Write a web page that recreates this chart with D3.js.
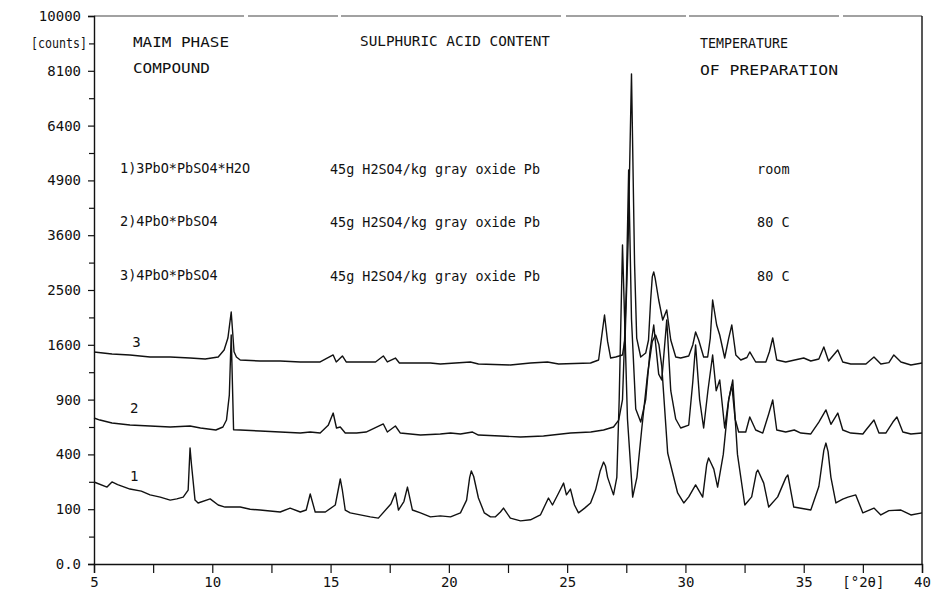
<!DOCTYPE html>
<html><head><meta charset="utf-8">
<script src="https://cdn.jsdelivr.net/npm/d3@7"></script>
<style>
html,body{margin:0;padding:0;background:#fff;}
svg text{font-family:"DejaVu Sans Mono","Liberation Mono",monospace;fill:#111;}
</style></head>
<body><svg id="c" width="934" height="596"></svg>
<script>
// ---- data (2θ in degrees, intensity in counts as plotted) ----
const trace1 = [[5.00,224],[5.55,197],[5.76,224],[6.0,210],[6.52,187],[7.0,177],[7.37,159],[7.8,149],[8.22,136],[8.5,141],[8.77,149],[8.98,182],[9.02,300],[9.06,448],[9.12,330],[9.27,136],[9.40,124],[9.91,141],[10.25,116],[10.54,108],[11.18,108],[11.6,100],[12.02,97],[12.87,90],[13.29,104],[13.72,90],[13.97,97],[14.14,163],[14.35,90],[14.78,90],[15.20,116],[15.35,200],[15.41,241],[15.50,180],[15.62,97],[15.83,87],[16.68,74],[17.02,70],[17.55,120],[17.74,168],[17.87,97],[18.1,130],[18.25,197],[18.46,97],[18.80,87],[19.22,74],[19.64,77],[20.07,74],[20.49,87],[20.75,136],[20.88,250],[20.95,288],[21.05,255],[21.25,145],[21.50,87],[21.76,74],[21.97,74],[22.18,90],[22.31,104],[22.60,70],[23.03,62],[23.45,65],[23.87,80],[24.21,145],[24.38,116],[24.64,168],[24.85,218],[24.97,159],[25.14,187],[25.31,116],[25.48,87],[25.74,104],[25.99,124],[26.20,182],[26.40,290],[26.54,346],[26.62,320],[26.71,250],[26.96,159],[27.10,250],[27.20,900],[27.34,3389],[27.55,700],[27.77,149],[27.95,250],[28.15,600],[28.40,1200],[28.60,1650],[28.74,1746],[28.88,1600],[29.0,1300],[29.25,410],[29.67,168],[29.93,124],[30.14,150],[30.43,208],[30.73,149],[30.90,330],[30.98,374],[31.08,340],[31.2,300],[31.36,197],[31.6,400],[31.83,900],[32.00,1127],[32.2,400],[32.51,116],[32.8,150],[33.0,280],[33.06,294],[33.31,218],[33.52,108],[33.9,150],[34.25,250],[34.33,264],[34.58,108],[35.30,97],[35.64,200],[35.85,430],[35.94,487],[36.03,420],[36.15,250],[36.36,124],[36.65,140],[36.87,149],[37.2,159],[37.50,87],[37.97,104],[38.26,80],[38.6,95],[39.11,97],[39.53,80],[40.00,87]];

const trace2 = [[5.00,710],[5.25,690],[5.76,662],[6.52,643],[7.37,634],[8.22,625],[9.06,634],[9.50,616],[10.15,598],[10.45,625],[10.60,690],[10.72,950],[10.80,1746],[10.90,600],[11.18,598],[12.02,589],[12.87,580],[13.72,571],[14.14,580],[14.56,571],[14.90,640],[15.11,759],[15.25,616],[15.41,625],[15.62,571],[16.1,571],[16.5,580],[17.23,653],[17.40,580],[17.74,634],[17.95,571],[18.80,554],[19.64,563],[20.07,571],[20.49,563],[21.00,580],[21.25,554],[22.18,546],[23.03,537],[24.00,546],[25.14,571],[26.0,580],[26.54,598],[26.96,625],[27.18,690],[27.34,900],[27.50,2500],[27.60,5169],[27.72,2000],[27.90,800],[28.11,671],[28.32,900],[28.50,1500],[28.66,1902],[28.87,1200],[29.00,1127],[29.21,1982],[29.38,1000],[29.59,700],[29.80,616],[30.14,643],[30.31,1100],[30.43,1597],[30.60,900],[30.77,616],[30.95,1000],[31.15,1455],[31.30,1000],[31.45,1127],[31.66,616],[31.83,900],[31.96,1067],[32.10,700],[32.25,580],[32.55,580],[32.72,720],[32.97,598],[33.27,571],[33.52,750],[33.69,896],[33.86,598],[34.24,580],[34.60,598],[34.88,571],[35.30,563],[35.64,671],[35.94,790],[36.15,650],[36.44,759],[36.65,598],[36.99,571],[37.50,563],[37.63,598],[37.97,690],[38.18,571],[38.47,571],[38.77,671],[38.94,720],[39.19,580],[39.53,563],[40.00,571]];

const trace3 = [[5.00,1497],[5.76,1469],[6.52,1455],[7.37,1427],[8.22,1427],[9.06,1413],[9.70,1399],[10.25,1427],[10.50,1525],[10.66,1700],[10.80,2115],[10.92,1500],[11.02,1427],[11.18,1386],[12.02,1372],[12.87,1372],[13.72,1359],[14.56,1359],[15.11,1455],[15.24,1359],[15.50,1441],[15.66,1359],[16.27,1359],[16.90,1359],[17.23,1441],[17.40,1359],[17.74,1413],[17.91,1345],[19.22,1345],[19.64,1332],[20.91,1359],[21.25,1332],[22.60,1319],[23.45,1345],[24.17,1359],[24.64,1332],[25.99,1345],[26.33,1386],[26.45,1700],[26.58,2065],[26.71,1650],[26.84,1413],[27.05,1427],[27.34,1455],[27.45,1700],[27.58,3500],[27.72,8000],[27.85,3000],[27.94,1700],[28.11,1427],[28.32,1482],[28.44,1671],[28.53,2321],[28.60,2750],[28.66,2839],[28.72,2720],[28.87,2321],[29.04,1982],[29.21,2148],[29.38,1671],[29.59,1427],[29.80,1413],[30.14,1441],[30.31,1597],[30.43,1792],[30.56,1671],[30.77,1427],[30.94,1427],[31.05,1700],[31.15,2321],[31.32,1902],[31.45,1746],[31.66,1413],[31.83,1700],[31.96,1902],[32.13,1455],[32.34,1386],[32.60,1420],[32.72,1497],[32.97,1359],[33.40,1359],[33.55,1500],[33.69,1701],[33.86,1386],[34.24,1359],[35.00,1413],[35.30,1372],[35.64,1400],[35.85,1568],[36.05,1372],[36.44,1525],[36.65,1359],[36.99,1332],[37.63,1332],[37.97,1427],[38.26,1332],[38.60,1350],[38.81,1455],[39.11,1359],[39.53,1319],[40.00,1345]];

const traceNames = ["1","2","3"];
const yTickValues = [0,100,400,900,1600,2500,3600,4900,6400,8100,10000];
const yTickLabels = ["0.0","100","400","900","1600","2500","3600","4900","6400","8100","10000"];
const yMinorTicks = [25,225,625,1225,2025,3025,4225,5625,7225,9025];
const xTickValues = [5,7.5,10,12.5,15,17.5,20,22.5,25,27.5,30,32.5,35,37.5,40];
const xTickLabels = ["5","","10","","15","","20","","25","","30","","35","[°2θ]","40"];
const yUnit = "[counts]";
const headers = ["MAIM PHASE","COMPOUND","SULPHURIC ACID CONTENT","TEMPERATURE","OF PREPARATION"];
const compounds = ["1)3PbO*PbSO4*H2O","2)4PbO*PbSO4","3)4PbO*PbSO4"];
const acidContent = ["45g H2SO4/kg gray oxide Pb","45g H2SO4/kg gray oxide Pb","45g H2SO4/kg gray oxide Pb"];
const temperatures = ["room","80 C","80 C"];

// ---- layout ----
const L=94, R=922, T=16, B=564;
const svg = d3.select("#c");
const x = d3.scaleLinear().domain([5,40]).range([L,R]);
const y = d3.scaleSqrt().domain([0,10000]).range([B,T]);

// frame
svg.append("line").attr("x1",L).attr("x2",R).attr("y1",T).attr("y2",T)
  .attr("stroke","#444").attr("stroke-width",1.1).attr("stroke-dasharray","150,4,90,3,220,5,120,3");
svg.append("line").attr("x1",R).attr("x2",R).attr("y1",T).attr("y2",B)
  .attr("stroke","#111").attr("stroke-width",1.4);

// y axis
const yAxis = d3.axisLeft(y).tickValues(yTickValues).tickSize(6).tickPadding(7)
  .tickFormat((d,i)=>yTickLabels[i]);
const gy = svg.append("g").attr("transform",`translate(${L},0)`).call(yAxis);
gy.select(".domain").attr("stroke","#111").attr("stroke-width",1.4);
gy.selectAll(".tick line").attr("stroke","#111").attr("stroke-width",1.2);
gy.selectAll("text").style("font-size","14px").attr("fill","#111");
const gym = svg.append("g").attr("transform",`translate(${L},0)`)
  .call(d3.axisLeft(y).tickValues(yMinorTicks).tickSize(5).tickFormat(""));
gym.select(".domain").remove();
gym.selectAll(".tick line").attr("stroke","#111").attr("stroke-width",1.2);
svg.append("text").attr("x",87).attr("y",44).attr("text-anchor","end")
  .attr("dominant-baseline","middle").style("font-size","14px")
  .attr("textLength",56).attr("lengthAdjust","spacingAndGlyphs").text(yUnit);

// x axis
const xAxis = d3.axisBottom(x).tickValues(xTickValues).tickSize(9).tickPadding(4)
  .tickFormat((d,i)=>xTickLabels[i]);
const gx = svg.append("g").attr("transform",`translate(0,${B})`).call(xAxis);
gx.select(".domain").attr("stroke","#111").attr("stroke-width",1.4);
gx.selectAll(".tick line").attr("stroke","#111").attr("stroke-width",1.2);
gx.selectAll("text").style("font-size","14px").attr("fill","#111");

// traces
const line = d3.line().x(d=>x(d[0])).y(d=>y(d[1]));
[trace1,trace2,trace3].forEach(t=>{
  svg.append("path").datum(t).attr("d",line).attr("fill","none")
    .attr("stroke","#111").attr("stroke-width",1.4).attr("stroke-linejoin","round");
});
// trace labels
const labelPos = [[6.7,200],[6.7,700],[6.8,1480]];
traceNames.forEach((n,i)=>{
  svg.append("text").attr("x",x(labelPos[i][0])).attr("y",y(labelPos[i][1])-6)
    .attr("text-anchor","middle").style("font-size","14px").text(n);
});

// annotation texts
function txt(s,x0,yc,w){
  const t = svg.append("text").attr("x",x0).attr("y",yc).attr("dominant-baseline","middle")
    .style("font-size","13.5px").text(s);
  if(w) t.attr("textLength",w).attr("lengthAdjust","spacingAndGlyphs");
  return t;
}
txt(headers[0],133,43,96);
txt(headers[1],133,69,77);
txt(headers[2],360,42,190);
txt(headers[3],700,44,88);
txt(headers[4],700,71,138);
const rowsY=[169,222,276];
compounds.forEach((c,i)=>txt(c,120,rowsY[i]));
acidContent.forEach((c,i)=>txt(c,330,rowsY[i]+1,210));
temperatures.forEach((c,i)=>txt(c,757,rowsY[i]+1));
</script></body></html>
